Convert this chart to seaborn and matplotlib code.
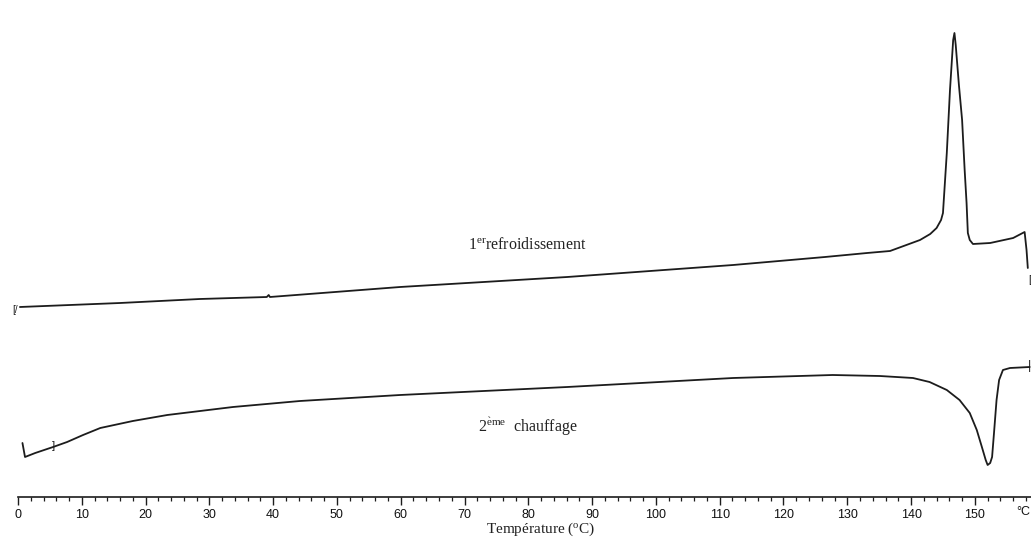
import matplotlib
matplotlib.use("Agg")
import matplotlib.pyplot as plt
import matplotlib.transforms as mtransforms
import pandas as pd
import seaborn as sns

# DSC thermogram: first cooling and second heating (arbitrary heat-flow units)
cool_temp = [0.3, 16.0, 28.5, 39.0, 39.3, 39.5, 59.9, 86.1, 112.1, 126.5,
             133.1, 136.7, 141.4, 143.0, 144.0, 144.7, 145.0, 145.6, 146.1,
             146.6, 146.8, 147.0, 147.5, 148.0, 148.4, 148.7, 148.9, 149.2,
             149.7, 152.4, 156.0, 157.8, 158.1, 158.3]
cool_flow = [19.6, 20.0, 20.4, 20.6, 20.8, 20.6, 21.6, 22.6, 23.8, 24.6,
             25.0, 25.2, 26.3, 26.9, 27.5, 28.3, 29.0, 35.0, 41.3,
             46.3, 47.0, 45.8, 41.8, 38.3, 33.3, 30.0, 27.0, 26.3,
             25.9, 26.0, 26.5, 27.1, 25.3, 23.5]

heat_temp = [0.7, 1.1, 2.7, 5.5, 7.7, 10.2, 12.9, 18.0, 23.4, 33.7, 44.2,
             59.9, 86.1, 112.1, 127.7, 135.1, 140.3, 142.9, 145.6, 147.6,
             149.2, 150.3, 151.1, 151.7, 152.0, 152.4, 152.7, 153.0, 153.4,
             153.8, 154.4, 155.5, 158.6]
heat_flow = [6.0, 4.6, 5.0, 5.6, 6.1, 6.8, 7.5, 8.2, 8.8, 9.6, 10.2,
             10.8, 11.6, 12.5, 12.8, 12.7, 12.5, 12.1, 11.3, 10.3,
             9.0, 7.3, 5.6, 4.3, 3.8, 4.0, 4.6, 7.0, 10.3,
             12.3, 13.3, 13.5, 13.6]

major_ticks = list(range(0, 151, 10))
minor_ticks = list(range(0, 159, 2))

sns.set_style("white")
plt.rcParams["font.family"] = ["Liberation Sans", "DejaVu Sans"]
plt.rcParams["mathtext.fontset"] = "custom"
plt.rcParams["mathtext.rm"] = "Liberation Serif"
plt.rcParams["mathtext.it"] = "Liberation Serif:italic"

fig = plt.figure(figsize=(10.31, 5.44), dpi=100)
ax = fig.add_axes([0.0, 47 / 544, 1.0, 497 / 544])

ink = "#1c1c1c"
cool = pd.DataFrame({"T": cool_temp, "q": cool_flow})
heat = pd.DataFrame({"T": heat_temp, "q": heat_flow})
sns.lineplot(data=cool, x="T", y="q", estimator=None, sort=False,
             color=ink, lw=1.3, ax=ax)
sns.lineplot(data=heat, x="T", y="q", estimator=None, sort=False,
             color=ink, lw=1.3, ax=ax)

ax.set_xlim(-2.82, 158.8)
ax.set_ylim(0.6, 50.3)

# Start / end markers of each run
ax.text(cool_temp[0] - 0.3, cool_flow[0] - 0.3, "[/", ha="right", va="center",
        fontsize=7, color=ink, family="Liberation Sans")
ax.text(heat_temp[3], heat_flow[3] + 0.1, "]", ha="center", va="center",
        fontsize=8, color=ink, family="Liberation Sans")
ax.text(cool_temp[-1] + 0.05, cool_flow[-1] - 1.2, "[", ha="left", va="center",
        fontsize=8, color=ink, family="Liberation Sans")
ax.text(heat_temp[-1], heat_flow[-1] + 0.1, "|", ha="center", va="center",
        fontsize=9, color=ink, family="Liberation Sans")

# Curve labels
ax.text(70.5, 25.4, r"1$^{\mathrm{er}}$refroidissement", ha="left",
        va="baseline", fontsize=11.5, family="Liberation Serif", color="#222222")
ax.text(72.1, 7.1, r"2$^{\mathrm{\`eme}}$  chauffage", ha="left",
        va="baseline", fontsize=11.5, family="Liberation Serif", color="#222222")

for side in ("left", "right", "top"):
    ax.spines[side].set_visible(False)
ax.spines["bottom"].set_color(ink)
ax.spines["bottom"].set_linewidth(1.2)
ax.spines["bottom"].set_bounds(0, 158.8)

ax.set_xticks(major_ticks)
ax.set_xticklabels([str(t) for t in major_ticks])
ax.set_xticks(minor_ticks, minor=True)
ax.tick_params(axis="x", which="both", bottom=True)
ax.tick_params(axis="x", which="major", direction="out", length=5.5, width=1.0,
               color=ink, labelsize=9, pad=3, labelcolor="#111111")
ax.tick_params(axis="x", which="minor", direction="out", length=3.2, width=0.9,
               color=ink)
ax.set_yticks([])
ax.set_xlabel("")
ax.set_ylabel("")

# Unit tag at the right end of the temperature scale
fig.text(1030 / 1031, 1 - 512 / 544, "°C", ha="right", va="center",
         fontsize=9, color="#111111")
fig.text(541 / 1031, 1 - 533 / 544, r"Température ($^{\mathrm{o}}$C)",
         ha="center", va="baseline", fontsize=11, family="Liberation Serif",
         color="#222222")

fig.savefig("out.png", dpi=100, facecolor="white")
